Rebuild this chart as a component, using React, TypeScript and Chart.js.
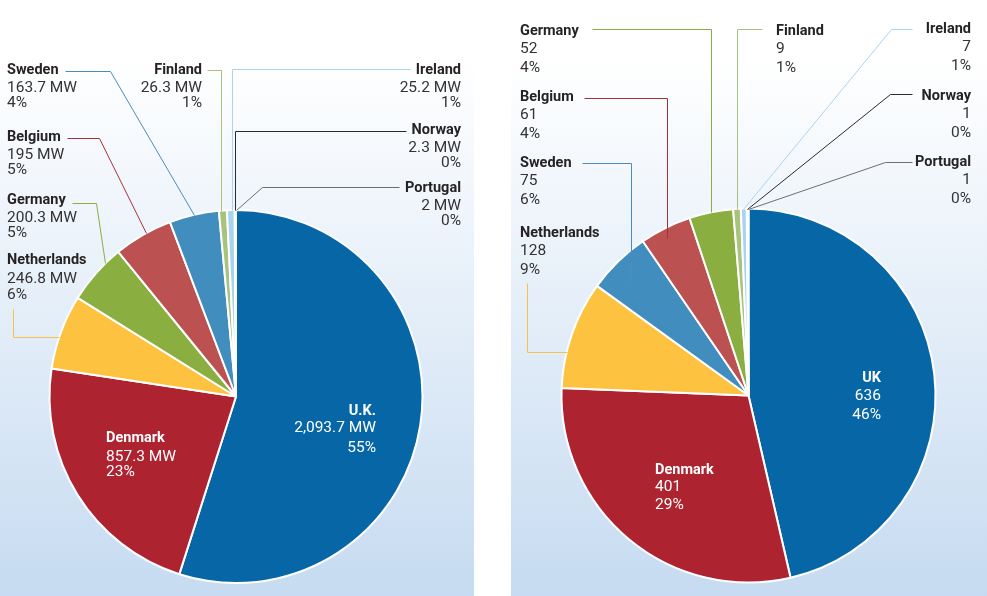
import React, { useEffect, useRef } from 'react';
import { Chart, registerables } from 'chart.js';

Chart.register(...registerables);

// ---------- DATA ----------
const capacityCountries = ['U.K.', 'Denmark', 'Netherlands', 'Germany', 'Belgium', 'Sweden', 'Finland', 'Ireland', 'Norway', 'Portugal'];
const capacityMW = [2093.7, 857.3, 246.8, 200.3, 195, 163.7, 26.3, 25.2, 2.3, 2];
const capacityShares = ['55%', '23%', '6%', '5%', '5%', '4%', '1%', '1%', '0%', '0%'];

const turbineCountries = ['UK', 'Denmark', 'Netherlands', 'Sweden', 'Belgium', 'Germany', 'Finland', 'Ireland', 'Norway', 'Portugal'];
const turbineCounts = [636, 401, 128, 75, 61, 52, 9, 7, 1, 1];
const turbineShares = ['46%', '29%', '9%', '6%', '4%', '4%', '1%', '1%', '0%', '0%'];

// ---------- STYLES ----------
const sliceColors: Record<string, string> = {
  UK: '#0767a6',
  Denmark: '#ae2330',
  Netherlands: '#fdc340',
  Germany: '#8aae3f',
  Belgium: '#bb5150',
  Sweden: '#418dbe',
  Finland: '#a8c47c',
  Ireland: '#a9d4f0',
  Norway: '#ffffff',
  Portugal: '#ffffff',
};
const leaderColors: Record<string, string> = {
  UK: '#0767a6',
  Denmark: '#ae2330',
  Netherlands: '#f6c04a',
  Germany: '#8aae3f',
  Belgium: '#a5303a',
  Sweden: '#4a8cc0',
  Finland: '#a8c47c',
  Ireland: '#a9d4f0',
  Norway: '#2a2a2a',
  Portugal: '#6e6e6e',
};
const key = (n: string) => n.replace(/\./g, '');

type Spec = {
  x: number;
  y: number;
  align: 'left' | 'right';
  inside?: boolean;
  dy: [number, number];
  mode?: 'elbow' | 'drop' | 'down';
  side?: 'after' | 'before';
  lineStartX?: number;
  lineY?: number;
  elbowX?: number;
  t?: number;
  rf?: number;
};

// label layout (canvas-relative), in slice order
const capacityLayout: Spec[] = [
  { x: 376, y: 411, align: 'right', inside: true, dy: [17, 37] },
  { x: 106, y: 438, align: 'left', inside: true, dy: [19, 34] },
  { x: 7, y: 260, align: 'left', dy: [19, 35], mode: 'down', lineStartX: 13, lineY: 309, t: 0.43 },
  { x: 7, y: 200, align: 'left', dy: [18, 33], mode: 'elbow', side: 'after', lineY: 203, elbowX: 96, t: 0.72 },
  { x: 7, y: 137, align: 'left', dy: [18, 33], mode: 'elbow', side: 'after', lineY: 138, elbowX: 99, t: 0.55 },
  { x: 7, y: 70, align: 'left', dy: [18, 33], mode: 'elbow', side: 'after', lineY: 71, elbowX: 110, t: 0.49 },
  { x: 202, y: 70, align: 'right', dy: [18, 33], mode: 'drop', lineStartX: 207, lineY: 70, t: 0.3 },
  { x: 461, y: 70, align: 'right', dy: [18, 33], mode: 'drop', side: 'before', lineY: 69, t: 0.66 },
  { x: 461, y: 130, align: 'right', dy: [18, 33], mode: 'drop', side: 'before', lineY: 131, t: 0.5 },
  { x: 461, y: 188, align: 'right', dy: [18, 33], mode: 'elbow', side: 'before', lineY: 187, elbowX: 262, t: 0.5 },
];

const turbineLayout: Spec[] = [
  { x: 370, y: 378, align: 'right', inside: true, dy: [18, 37] },
  { x: 144, y: 470, align: 'left', inside: true, dy: [17, 35] },
  { x: 9, y: 233, align: 'left', dy: [18, 37], mode: 'down', lineStartX: 16, lineY: 283, t: 0.33 },
  { x: 9, y: 163, align: 'left', dy: [18, 37], mode: 'drop', side: 'after', lineY: 163, t: 0.4, rf: 0.87 },
  { x: 9, y: 97, align: 'left', dy: [18, 37], mode: 'drop', side: 'after', lineY: 98, t: 0.44, rf: 0.95 },
  { x: 9, y: 31, align: 'left', dy: [18, 37], mode: 'drop', lineStartX: 81, lineY: 29, t: 0.5 },
  { x: 265, y: 31, align: 'left', dy: [18, 37], mode: 'drop', lineStartX: 251, lineY: 29, t: 0.5 },
  { x: 460, y: 29, align: 'right', dy: [18, 37], mode: 'elbow', lineStartX: 401, lineY: 29, elbowX: 380, t: 0.4 },
  { x: 460, y: 96, align: 'right', dy: [18, 37], mode: 'elbow', lineStartX: 401, lineY: 94, elbowX: 379, t: 0.5 },
  { x: 460, y: 162, align: 'right', dy: [18, 37], mode: 'elbow', lineStartX: 401, lineY: 162, elbowX: 374, t: 0.5 },
];

const FONT = 'Roboto, "Liberation Sans", Arial, sans-serif';
const NAME_FONT = `bold 14.5px ${FONT}`;
const VALUE_FONT = `15.5px ${FONT}`;
const H = 596;

function makeLabelPlugin(names: string[], valueTexts: string[], shares: string[], layout: Spec[], gap: number) {
  return {
    id: 'sliceLabels',
    afterDatasetsDraw(chart: any) {
      const ctx: CanvasRenderingContext2D = chart.ctx;
      const arcs = chart.getDatasetMeta(0).data as any[];
      ctx.save();
      layout.forEach((s, i) => {
        const arc = arcs[i];
        if (!arc) return;
        const p = arc.getProps(['x', 'y', 'startAngle', 'endAngle', 'outerRadius'], true);
        const name = names[i];
        ctx.font = NAME_FONT;
        const w = ctx.measureText(name).width;
        // leader line
        if (!s.inside && s.mode) {
          const a = p.startAngle + (s.t ?? 0.5) * (p.endAngle - p.startAngle);
          const r = p.outerRadius * (s.rf ?? 1);
          const ex = Math.round(p.x + Math.cos(a) * r) + 0.5;
          const ey = Math.round(p.y + Math.sin(a) * r) + 0.5;
          let sx: number;
          if (s.lineStartX !== undefined) sx = s.lineStartX;
          else if (s.side === 'before') sx = s.align === 'right' ? s.x - w - gap : s.x - gap;
          else sx = s.align === 'left' ? s.x + w + gap : s.x + gap;
          sx = Math.round(sx) + 0.5;
          const ly = Math.round(s.lineY ?? s.y) + 0.5;
          ctx.beginPath();
          ctx.strokeStyle = leaderColors[key(name)];
          ctx.lineWidth = 1;
          ctx.moveTo(sx, ly);
          if (s.mode === 'elbow') {
            ctx.lineTo(Math.round(s.elbowX ?? sx) + 0.5, ly);
            ctx.lineTo(ex, ey);
          } else if (s.mode === 'drop') {
            ctx.lineTo(ex, ly);
            ctx.lineTo(ex, ey);
          } else {
            ctx.lineTo(sx, ey);
            ctx.lineTo(ex, ey);
          }
          ctx.stroke();
        }
        // texts
        ctx.textAlign = s.align;
        ctx.textBaseline = 'middle';
        ctx.fillStyle = s.inside ? '#ffffff' : '#262324';
        ctx.font = NAME_FONT;
        ctx.fillText(name, s.x, s.y);
        ctx.font = VALUE_FONT;
        ctx.fillStyle = s.inside ? '#ffffff' : '#353233';
        ctx.fillText(valueTexts[i], s.x, s.y + s.dy[0]);
        ctx.fillText(shares[i], s.x, s.y + s.dy[1]);
      });
      ctx.restore();
    },
  };
}

type PanelProps = {
  left: number;
  width: number;
  names: string[];
  values: number[];
  valueTexts: string[];
  shares: string[];
  layout: Spec[];
  padding: { left: number; right: number; top: number; bottom: number };
  gap: number;
};

function PiePanel(props: PanelProps) {
  const ref = useRef<HTMLCanvasElement>(null);
  useEffect(() => {
    const canvas = ref.current;
    if (!canvas) return;
    const chart = new Chart(canvas, {
      type: 'pie',
      data: {
        labels: props.names,
        datasets: [
          {
            data: props.values,
            backgroundColor: props.names.map((n) => sliceColors[key(n)]),
            borderColor: '#ffffff',
            borderWidth: 2,
          },
        ],
      },
      options: {
        animation: false,
        responsive: false,
        maintainAspectRatio: false,
        layout: { padding: props.padding },
        plugins: { legend: { display: false }, tooltip: { enabled: false } },
      },
      plugins: [makeLabelPlugin(props.names, props.valueTexts, props.shares, props.layout, props.gap)],
    } as any);
    return () => chart.destroy();
  }, []);
  return (
    <div
      style={{
        position: 'absolute',
        left: props.left,
        top: 0,
        width: props.width,
        height: H,
        background: 'linear-gradient(to bottom, #ffffff 0%, #ffffff 10%, #c6dbf1 100%)',
      }}
    >
      <canvas ref={ref} width={props.width} height={H} style={{ display: 'block' }} />
    </div>
  );
}

export default function App() {
  const capacityTexts = capacityMW.map((v) => v.toLocaleString('en-US', { maximumFractionDigits: 1 }) + ' MW');
  const turbineTexts = turbineCounts.map((v) => String(v));
  return (
    <div style={{ position: 'fixed', left: 0, top: 0, width: 987, height: H, background: '#ffffff', overflow: 'hidden' }}>
      <PiePanel
        left={0}
        width={474}
        names={capacityCountries}
        values={capacityMW}
        valueTexts={capacityTexts}
        shares={capacityShares}
        layout={capacityLayout}
        padding={{ left: 48.5, right: 50.5, top: 209, bottom: 12 }}
        gap={6}
      />
      <PiePanel
        left={511}
        width={476}
        names={turbineCountries}
        values={turbineCounts}
        valueTexts={turbineTexts}
        shares={turbineShares}
        layout={turbineLayout}
        padding={{ left: 49.5, right: 50.5, top: 207.5, bottom: 12.5 }}
        gap={10}
      />
    </div>
  );
}
